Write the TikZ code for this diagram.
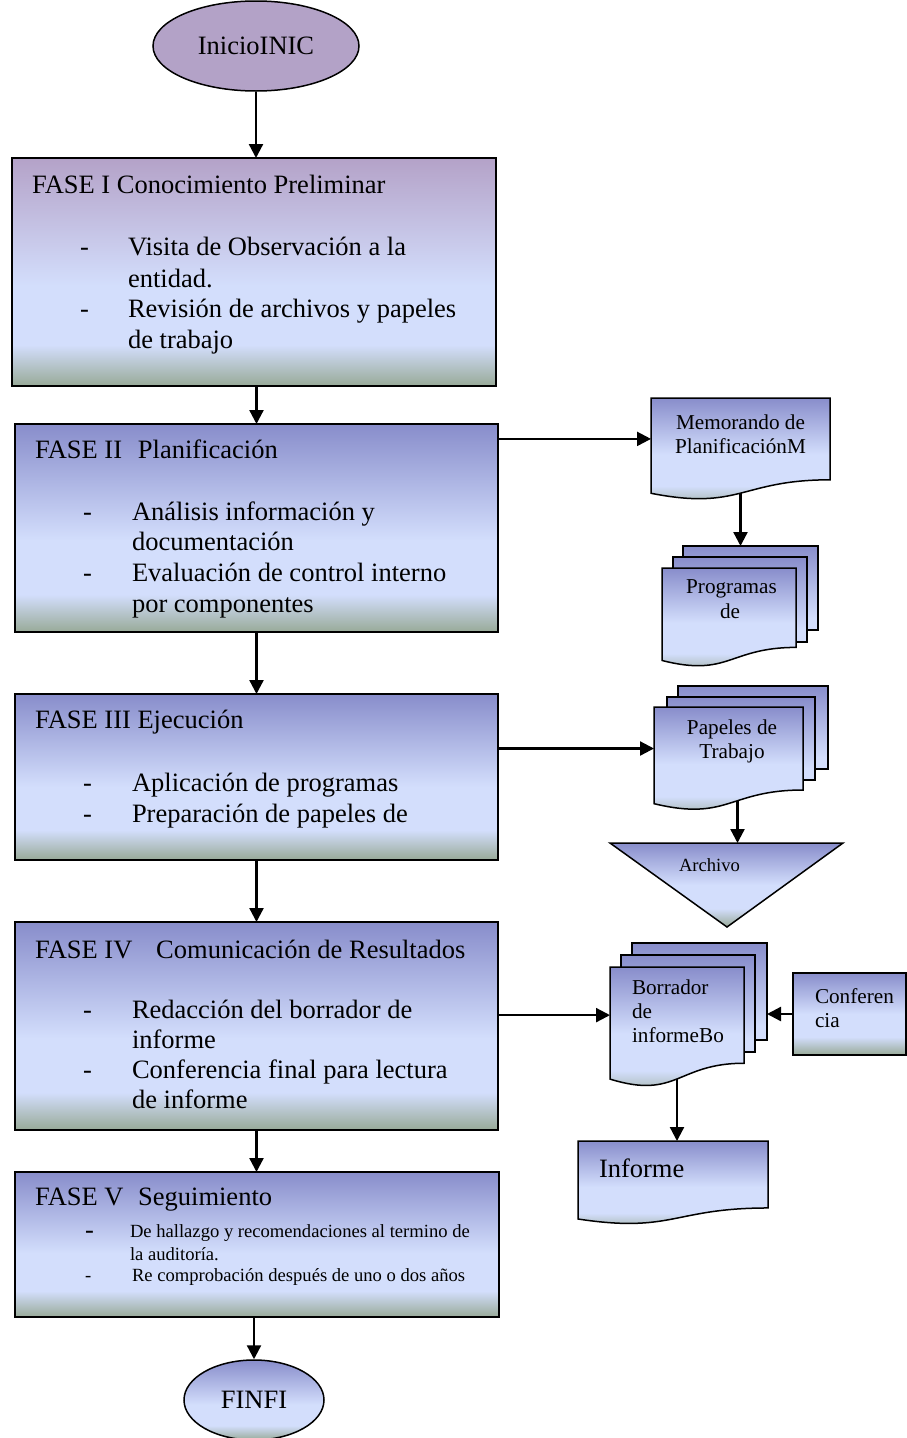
\documentclass[tikz,border=0pt]{standalone}
\usepackage{fontspec}
\setmainfont{Liberation Serif}
\usetikzlibrary{arrows.meta,shapes.geometric}
\definecolor{topblue}{RGB}{136,141,203}
\definecolor{lightblue}{RGB}{211,222,252}
\definecolor{greyg}{RGB}{152,170,152}
\definecolor{toppurple}{RGB}{180,162,200}
\definecolor{iniciofill}{RGB}{179,162,199}
\pgfdeclareverticalshading{phase}{100bp}{color(0bp)=(greyg); color(25bp)=(greyg); color(34bp)=(lightblue); color(47bp)=(lightblue); color(75bp)=(topblue); color(100bp)=(topblue)}
\pgfdeclareverticalshading{phasep}{100bp}{color(0bp)=(greyg); color(25bp)=(greyg); color(34bp)=(lightblue); color(47bp)=(lightblue); color(75bp)=(toppurple); color(100bp)=(toppurple)}
\pgfdeclareverticalshading{docsh}{100bp}{color(0bp)=(greyg); color(25bp)=(greyg); color(36bp)=(lightblue); color(50bp)=(lightblue); color(75bp)=(topblue); color(100bp)=(topblue)}
\pgfdeclareverticalshading{backsh}{100bp}{color(0bp)=(lightblue); color(32bp)=(lightblue); color(75bp)=(topblue); color(100bp)=(topblue)}
\pgfdeclarelayer{bg}
\pgfsetlayers{bg,main}
\newcommand{\fbig}{\fontsize{26.5}{30}\selectfont}
\newcommand{\fmed}{\fontsize{21.2}{24}\selectfont}
\newcommand{\fsml}{\fontsize{18.6}{22}\selectfont}
\tikzset{
  outline/.style={draw=black, line width=1.5pt},
  phasebox/.style={outline, rectangle, inner sep=0pt, outer sep=0pt, shade, shading=phase},
  pagebox/.style={outline, rectangle, inner sep=0pt, outer sep=0pt, shade, shading=backsh, anchor=north west},
  hit/.style={rectangle, inner sep=0pt, outer sep=0pt, anchor=north west},
  txt/.style={inner sep=0pt, outer sep=0pt, anchor=base west},
  ctxt/.style={inner sep=0pt, outer sep=0pt, anchor=base},
  arr/.style={line width=2.3pt, -{Triangle[length=14pt,width=14pt]}}
}
% name, x1, y1, x2, h
\newcommand{\docshape}[5]{%
  \shade[outline, shading=docsh] (#2,#3) -- (#4,#3) -- (#4,{#3+0.802*#5})
     .. controls ({(#2+#4)/2},{#3+0.802*#5}) and ({(#2+#4)/2},{#3+1.107*#5}) .. (#2,{#3+0.934*#5}) -- cycle;
  \node[hit, minimum width={#4-#2}, minimum height={0.802*#5}] (#1) at (#2,#3) {};
}
\begin{document}
\begin{tikzpicture}[x=1pt,y=-1pt]
\useasboundingbox (0,0) rectangle (907,1438);

% start / end
\node[ellipse, outline, fill=iniciofill, minimum width=206pt, minimum height=90pt, inner sep=0pt] (inicio) at (256,46) {\fbig InicioINIC};
\node[ellipse, outline, shade, shading=phase, minimum width=140pt, minimum height=80pt, inner sep=0pt] (fin) at (254,1400) {\fbig FINFI};

% phases
\node[phasebox, shading=phasep, minimum width=484pt, minimum height=228pt, anchor=north west] (f1) at (12,158) {};
\node[phasebox, minimum width=483pt, minimum height=208pt, anchor=north west] (f2) at (15,424) {};
\node[phasebox, minimum width=483pt, minimum height=166pt, anchor=north west] (f3) at (15,694) {};
\node[phasebox, minimum width=483pt, minimum height=208pt, anchor=north west] (f4) at (15,922) {};
\node[phasebox, minimum width=484pt, minimum height=145pt, anchor=north west] (f5) at (15,1172) {};

% FASE I text
\node[txt] (t1) at (32,193) {\fbig FASE I Conocimiento Preliminar};
\node[txt] (d1a) at (80,255) {\fbig -};
\node[txt] (d1b) at (80,317) {\fbig -};
\node[txt] (l1a) at (128,255) {\fbig Visita de Observación a la};
\node[txt] (l1b) at (128,287) {\fbig entidad.};
\node[txt] (l1c) at (128,317) {\fbig Revisión de archivos y papeles};
\node[txt] (l1d) at (128,348) {\fbig de trabajo};

% FASE II text
\node[txt] (t2) at (35,458) {\fbig FASE II\hspace{0.6em}Planificación};
\node[txt] (d2a) at (83,520) {\fbig -};
\node[txt] (d2b) at (83,581) {\fbig -};
\node[txt] (l2a) at (132,520) {\fbig Análisis información y};
\node[txt] (l2b) at (132,550) {\fbig documentación};
\node[txt] (l2c) at (132,581) {\fbig Evaluación de control interno};
\node[txt] (l2d) at (132,612) {\fbig por componentes};

% FASE III text
\node[txt] (t3) at (35,728) {\fbig FASE III Ejecución};
\node[txt] (d3a) at (83,791) {\fbig -};
\node[txt] (d3b) at (83,822) {\fbig -};
\node[txt] (l3a) at (132,791) {\fbig Aplicación de programas};
\node[txt] (l3b) at (132,822) {\fbig Preparación de papeles de};

% FASE IV text
\node[txt] (t4) at (35,958) {\fbig FASE IV\hspace{0.9em}Comunicación de Resultados};
\node[txt] (d4a) at (83,1018) {\fbig -};
\node[txt] (d4b) at (83,1078) {\fbig -};
\node[txt] (l4a) at (132,1018) {\fbig Redacción del borrador de};
\node[txt] (l4b) at (132,1048) {\fbig informe};
\node[txt] (l4c) at (132,1078) {\fbig Conferencia final para lectura};
\node[txt] (l4d) at (132,1108) {\fbig de informe};

% FASE V text
\node[txt] (t5) at (35,1205) {\fbig FASE V\hspace{0.55em}Seguimiento};
\node[txt] (d5a) at (85,1238) {\fbig -};
\node[txt] (d5b) at (85,1281) {\fsml -};
\node[txt] (l5a) at (130,1237) {\fsml De hallazgo y recomendaciones al termino de};
\node[txt] (l5b) at (130,1260) {\fsml la auditoría.};
\node[txt] (l5c) at (132,1281) {\fsml Re comprobación después de uno o dos años};

% Memorando
\docshape{memo}{651}{398}{830}{102}
\node[ctxt] (m1) at (740.5,429) {\fmed Memorando de};
\node[ctxt] (m2) at (740.5,453) {\fmed PlanificaciónM};

% Programas stack
\node[pagebox, minimum width=135pt, minimum height=84pt] (progback) at (683,546) {};
\node[pagebox, minimum width=134pt, minimum height=85pt] (progmid) at (673,557) {};
\docshape{progfront}{662}{568}{796}{99}
\node[ctxt] (p1) at (731.5,593) {\fmed Programas};
\node[ctxt] (p2) at (730,618) {\fmed de};

% Papeles stack
\node[pagebox, minimum width=150pt, minimum height=83pt] (papback) at (678,686) {};
\node[pagebox, minimum width=148pt, minimum height=83pt] (papmid) at (667,697) {};
\docshape{papfront}{654}{707}{803}{103.5}
\node[ctxt] (q1) at (732,734) {\fmed Papeles de};
\node[ctxt] (q2) at (732,758) {\fmed Trabajo};

% Archivo
\shade[outline, shading=docsh] (610,843) -- (843,843) -- (727,927) -- cycle;
\node[hit, minimum width=233pt, minimum height=84pt] (archivo) at (610,843) {};
\node[txt] (a1) at (679,871) {\fsml Archivo};

% Borrador stack
\node[pagebox, minimum width=135pt, minimum height=97pt] (borback) at (632,943) {};
\node[pagebox, minimum width=134pt, minimum height=97pt] (bormid) at (621,955) {};
\docshape{borfront}{610}{967}{744}{120}
\node[txt] (b1) at (632,994) {\fmed Borrador};
\node[txt] (b2) at (632,1018) {\fmed de};
\node[txt] (b3) at (632,1042) {\fmed informeBo};

% Conferencia
\node[phasebox, shading=docsh, minimum width=113pt, minimum height=82pt, anchor=north west] (conf) at (793,973) {};
\node[txt] (c1) at (815,1003) {\fmed Conferen};
\node[txt] (c2) at (815,1027) {\fmed cia};

% Informe
\docshape{inf}{578}{1141}{768}{83.5}
\node[txt] (i1) at (599,1177) {\fbig Informe};

% background and connectors
\begin{pgfonlayer}{bg}
\fill[white] (0,0) rectangle (907,1438);
\draw[arr] (inicio.south) -- (inicio.south |- f1.north);
\draw[arr] (f2.north |- f1.south) -- (f2.north);
\draw[arr] (f2.south) -- (f2.south |- f3.north);
\draw[arr] (f3.south) -- (f3.south |- f4.north);
\draw[arr] (f4.south) -- (f4.south |- f5.north);
\draw[arr] (fin.north |- f5.south) -- (fin.north);
\draw[arr] (memo.west -| f2.east) -- (memo.west);
\draw[arr] (memo.south) -- (memo.south |- progback.north);
\draw[arr] (papfront.west -| f3.east) -- (papfront.west);
\draw[arr] ([xshift=9pt]papfront.south) -- ([xshift=9pt]papfront.south |- archivo.north);
\draw[arr] (borfront.west -| f4.east) -- (borfront.west);
\draw[arr] (conf.west) -- (conf.west -| borback.east);
\draw[arr] (borfront.south) -- (borfront.south |- inf.north);
\end{pgfonlayer}
\end{tikzpicture}
\end{document}
